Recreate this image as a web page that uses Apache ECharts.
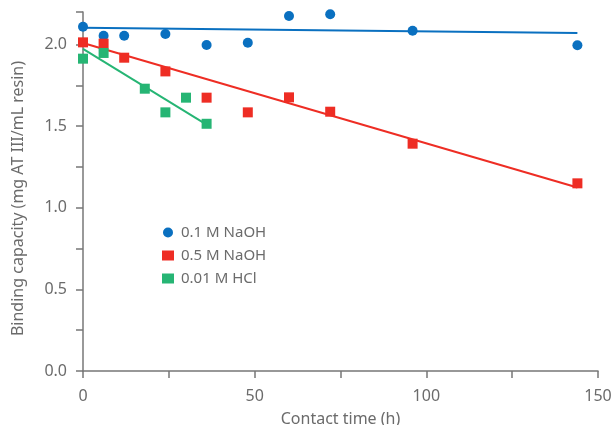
<!DOCTYPE html>
<html><head><meta charset="utf-8">
<script src="https://cdn.jsdelivr.net/npm/echarts@6/dist/echarts.min.js"></script>
<style>html,body{margin:0;padding:0;background:#fff}#c{width:614px;height:425px}</style>
</head><body><div id="c"></div>
<script>
const seriesNames = ['0.1 M NaOH', '0.5 M NaOH', '0.01 M HCl'];
const naoh01X = [0, 6, 12, 24, 36, 48, 60, 72, 96, 144];
const naoh01Y = [2.11, 2.055, 2.055, 2.065, 1.998, 2.012, 2.175, 2.186, 2.085, 1.996];
const naoh05X = [0, 6, 12, 24, 36, 48, 60, 72, 96, 144];
const naoh05Y = [2.014, 2.006, 1.92, 1.836, 1.675, 1.585, 1.677, 1.589, 1.393, 1.15];
const hclX = [0, 6, 18, 24, 30, 36];
const hclY = [1.914, 1.949, 1.73, 1.585, 1.675, 1.515];
const fit01X = [0, 144], fit01Y = [2.104, 2.072];
const fit05X = [0, 144], fit05Y = [2.01, 1.125];
const fitHclX = [0, 36], fitHclY = [1.974, 1.51];
const xTicks = [0, 50, 100, 150];
const yTicks = [0.0, 0.5, 1.0, 1.5, 2.0];
const colors = ['#0a70c0', '#ee2d24', '#26b574'];

const pair = (xs, ys) => xs.map((x, i) => [x, ys[i]]);
const FONT = 'Noto Sans';
const GRAY = '#6b6b6b';
const FS = 16;
const chart = echarts.init(document.getElementById('c'));
const scatter = (name, xs, ys, sym, size, color) => ({
  name, type: 'scatter', data: pair(xs, ys), symbol: sym, symbolSize: size,
  itemStyle: { color, opacity: 1 }, z: 3
});
const fit = (xs, ys, color) => ({
  type: 'line', data: pair(xs, ys), showSymbol: false, symbol: 'none',
  lineStyle: { color, width: 2 }, silent: true, z: 2
});
chart.setOption({
  animation: false,
  color: colors,
  textStyle: { fontFamily: FONT },
  grid: { left: 83, right: 16, top: 12, bottom: 54, containLabel: false, outerBoundsMode: 'none' },
  legend: {
    orient: 'vertical', left: 157, top: 220, itemGap: 8, itemWidth: 12, itemHeight: 10,
    data: [
      { name: seriesNames[0], icon: 'circle' },
      { name: seriesNames[1], icon: 'rect' },
      { name: seriesNames[2], icon: 'rect' }
    ],
    textStyle: { color: GRAY, fontSize: 15, fontFamily: FONT, padding: [0, 0, 0, 2] }
  },
  xAxis: {
    type: 'value', min: 0, max: 150, interval: 25,
    name: 'Contact time (h)', nameLocation: 'middle', nameGap: 40,
    nameTextStyle: { color: GRAY, fontSize: FS, fontFamily: FONT },
    axisLine: { lineStyle: { color: '#777', width: 1.5 } },
    axisTick: { show: true, inside: false, length: 7, lineStyle: { color: '#777', width: 1.5 } },
    axisLabel: { color: GRAY, fontSize: FS, margin: 17,
      formatter: v => xTicks.includes(v) ? String(v) : '' },
    splitLine: { show: false }
  },
  yAxis: {
    type: 'value', min: 0, max: 2.2, interval: 0.25,
    name: 'Binding capacity (mg AT III/mL resin)', nameLocation: 'middle', nameGap: 57,
    nameTextStyle: { color: GRAY, fontSize: FS, fontFamily: FONT, padding: [0, 0, 0, -14] },
    axisLine: { show: true, lineStyle: { color: '#777', width: 1.5 } },
    axisTick: { show: true, inside: false, length: 7, lineStyle: { color: '#777', width: 1.5 } },
    axisLabel: { color: GRAY, fontSize: FS, margin: 16,
      formatter: v => yTicks.some(t => Math.abs(t - v) < 1e-9) ? v.toFixed(1) : '' },
    splitLine: { show: false }
  },
  series: [
    fit(fit01X, fit01Y, colors[0]),
    fit(fit05X, fit05Y, colors[1]),
    fit(fitHclX, fitHclY, colors[2]),
    scatter(seriesNames[0], naoh01X, naoh01Y, 'circle', 10, colors[0]),
    scatter(seriesNames[1], naoh05X, naoh05Y, 'rect', 10, colors[1]),
    scatter(seriesNames[2], hclX, hclY, 'rect', 10, colors[2])
  ]
});
</script></body></html>
